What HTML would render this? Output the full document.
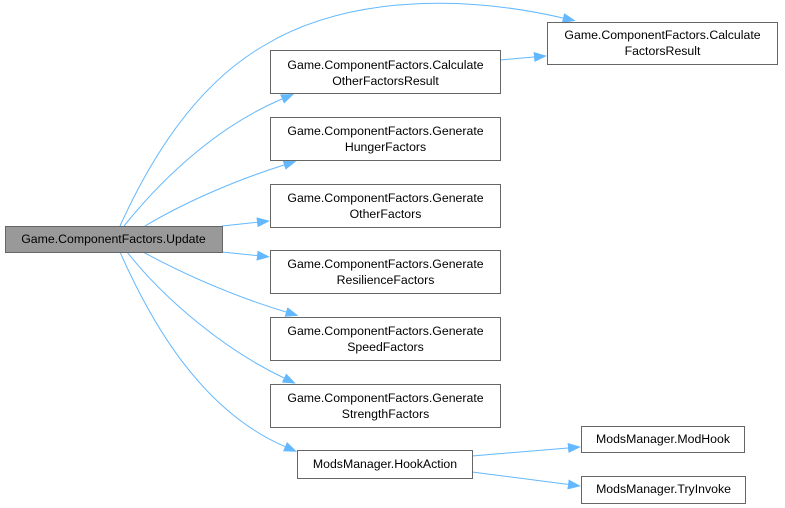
<!DOCTYPE html>
<html>
<head>
<meta charset="utf-8">
<style>
  html, body { margin: 0; padding: 0; background: #ffffff; }
  svg { display: block; }
  text { font-family: "Liberation Sans", Arial, sans-serif; font-size: 12.3px; fill: #000; }
</style>
</head>
<body>
<svg width="785" height="508" viewBox="0 0 785 508" xmlns="http://www.w3.org/2000/svg">
  <defs>
    <marker id="ah" markerUnits="userSpaceOnUse" markerWidth="13" markerHeight="10" viewBox="0 0 13 10" refX="0" refY="5" orient="auto">
      <path d="M0,0 L13,5 L0,10 z" fill="#63b8ff"/>
    </marker>
  </defs>

  <g fill="none" stroke="#63b8ff" stroke-width="1">
    <path d="M120,226 C150,160 195,85 265,45 C340,0 450,-8 563,18" marker-end="url(#ah)"/>
    <path d="M124,226 C165,175 220,125 282,99" marker-end="url(#ah)"/>
    <path d="M145,226 C180,205 230,182 284,165" marker-end="url(#ah)"/>
    <path d="M222,226 L257,222.3" marker-end="url(#ah)"/>
    <path d="M222,252 L257,255.6" marker-end="url(#ah)"/>
    <path d="M143,252 C180,272 230,295 286,312" marker-end="url(#ah)"/>
    <path d="M127,252 C165,300 225,350 284,378" marker-end="url(#ah)"/>
    <path d="M120,252 C150,320 200,410 285,446.6" marker-end="url(#ah)"/>
    <path d="M500,60 L534,57" marker-end="url(#ah)"/>
    <path d="M472,456 L568,448" marker-end="url(#ah)"/>
    <path d="M472,472 L568,484.4" marker-end="url(#ah)"/>
  </g>

  <g stroke="#666666" stroke-width="1">
    <rect x="5.5" y="226.5" width="217" height="26" fill="#999999"/>
    <rect x="547.5" y="22.5" width="230" height="42" fill="#ffffff"/>
    <rect x="270.5" y="50.5" width="230" height="43" fill="#ffffff"/>
    <rect x="270.5" y="117.5" width="230" height="43" fill="#ffffff"/>
    <rect x="270.5" y="184.5" width="230" height="43" fill="#ffffff"/>
    <rect x="270.5" y="250.5" width="230" height="43" fill="#ffffff"/>
    <rect x="270.5" y="317.5" width="230" height="43" fill="#ffffff"/>
    <rect x="270.5" y="384.5" width="230" height="43" fill="#ffffff"/>
    <rect x="297.5" y="450.5" width="175" height="28" fill="#ffffff"/>
    <rect x="581.5" y="426.5" width="163" height="26" fill="#ffffff"/>
    <rect x="581.5" y="476.5" width="164" height="27" fill="#ffffff"/>
  </g>

  <g text-anchor="middle">
    <text x="113.5" y="243">Game.ComponentFactors.Update</text>

    <text x="662.5" y="39">Game.ComponentFactors.Calculate</text>
    <text x="662.5" y="55">FactorsResult</text>

    <text x="385.5" y="69">Game.ComponentFactors.Calculate</text>
    <text x="385.5" y="85">OtherFactorsResult</text>

    <text x="385.5" y="135">Game.ComponentFactors.Generate</text>
    <text x="385.5" y="151">HungerFactors</text>

    <text x="385.5" y="202">Game.ComponentFactors.Generate</text>
    <text x="385.5" y="218">OtherFactors</text>

    <text x="385.5" y="268">Game.ComponentFactors.Generate</text>
    <text x="385.5" y="284">ResilienceFactors</text>

    <text x="385.5" y="335">Game.ComponentFactors.Generate</text>
    <text x="385.5" y="351">SpeedFactors</text>

    <text x="385.5" y="402">Game.ComponentFactors.Generate</text>
    <text x="385.5" y="418">StrengthFactors</text>

    <text x="385" y="468">ModsManager.HookAction</text>
    <text x="663" y="443">ModsManager.ModHook</text>
    <text x="663.5" y="493">ModsManager.TryInvoke</text>
  </g>
</svg>
</body>
</html>
